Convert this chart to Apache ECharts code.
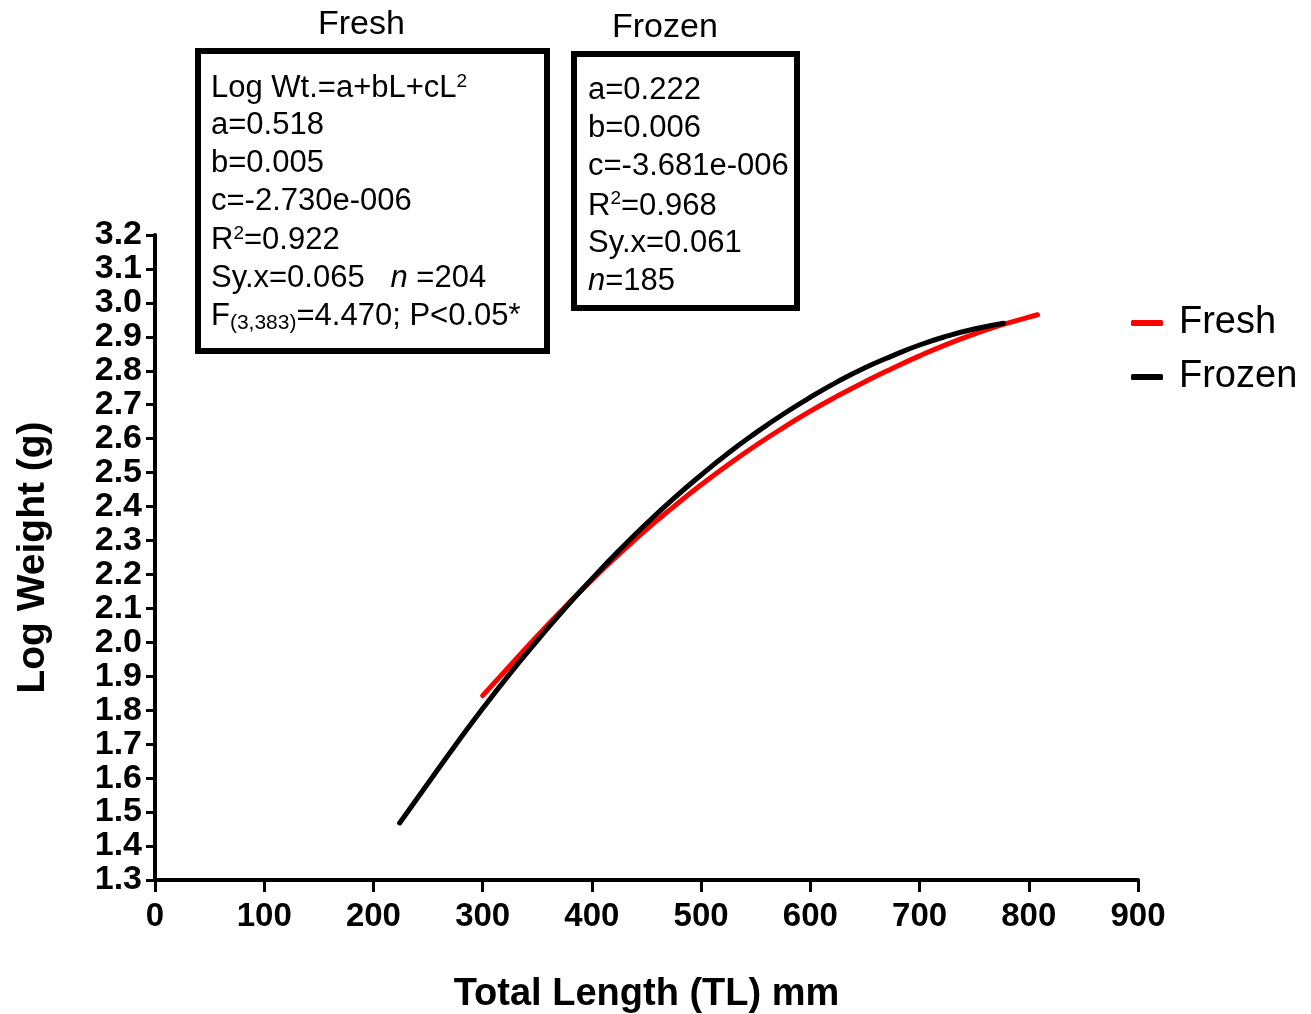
<!DOCTYPE html>
<html>
<head>
<meta charset="utf-8">
<script src="https://cdn.jsdelivr.net/npm/echarts@6/dist/echarts.min.js"></script>
<style>
html,body{margin:0;padding:0;background:#fff;}
#chart{width:1311px;height:1014px;}
</style>
</head>
<body>
<div id="chart"></div>
<script>
// Data
const freshLength = [300, 325, 350, 375, 400, 425, 450, 475, 500, 525, 550, 575, 600, 625, 650, 675, 700, 725, 750, 775, 800, 808];
const freshLogWt  = [1.843, 1.931, 2.019, 2.103, 2.184, 2.260, 2.333, 2.400, 2.464, 2.524, 2.580, 2.632, 2.681, 2.726, 2.768, 2.807, 2.844, 2.878, 2.908, 2.935, 2.958, 2.965];
const frozenLength = [224, 250, 275, 300, 325, 350, 375, 400, 425, 450, 475, 500, 525, 550, 575, 600, 625, 650, 675, 700, 725, 750, 777];
const frozenLogWt  = [1.468, 1.585, 1.697, 1.805, 1.908, 2.005, 2.099, 2.187, 2.271, 2.350, 2.424, 2.493, 2.558, 2.617, 2.672, 2.722, 2.768, 2.809, 2.844, 2.876, 2.902, 2.923, 2.940];
const seriesNames = ['Fresh', 'Frozen'];
const xTicks = {min: 0, max: 900, interval: 100};
const yTicks = {min: 1.3, max: 3.2, interval: 0.1};
const freshStats = ['Log Wt.=a+bL+cL{sup|2}', 'a=0.518', 'b=0.005', 'c=-2.730e-006', 'R{sup|2}=0.922', 'Sy.x=0.065   {it|n} =204', 'F{sub|(3,383)}=4.470; P<0.05*'];
const frozenStats = ['a=0.222', 'b=0.006', 'c=-3.681e-006', 'R{sup|2}=0.968', 'Sy.x=0.061', '{it|n}=185'];

const chart = echarts.init(document.getElementById('chart'), null, {renderer: 'canvas'});
const FONT = "'Liberation Sans', Arial, sans-serif";
const rich = {
  sup: {fontSize: 19, fontFamily: FONT, color: '#000', verticalAlign: 'top', padding: [0, 0, 14, 0]},
  sub: {fontSize: 21, fontFamily: FONT, color: '#000', padding: [14, 0, 0, 0]},
  it: {fontSize: 31, fontFamily: FONT, fontStyle: 'italic', color: '#000'}
};
function statTexts(lines, x, y0, step) {
  return lines.map((t, i) => ({
    type: 'text', left: x, top: y0 + i * step - 19,
    style: {text: t, fontSize: 31, fontFamily: FONT, fill: '#000', rich: rich}
  }));
}
const graphics = [
  {type: 'text', left: 318, top: 8, style: {text: 'Fresh', fontSize: 34, fontFamily: FONT, fill: '#000'}},
  {type: 'text', left: 612, top: 11, style: {text: 'Frozen', fontSize: 34, fontFamily: FONT, fill: '#000'}},
  {type: 'rect', shape: {x: 198, y: 51, width: 349, height: 300}, style: {fill: 'none', stroke: '#000', lineWidth: 6}},
  {type: 'rect', shape: {x: 574, y: 54, width: 223, height: 254}, style: {fill: 'none', stroke: '#000', lineWidth: 6}}
].concat(statTexts(freshStats, 211, 91, 38.1)).concat(statTexts(frozenStats, 588, 94, 38.2));

chart.setOption({
  backgroundColor: '#fff',
  animation: false,
  grid: {left: 155, right: 173, top: 235, bottom: 134, containLabel: false, outerBoundsMode: 'none'},
  legend: {
    orient: 'vertical', left: 1126, top: 299, itemGap: 16,
    icon: 'roundRect', itemWidth: 32, itemHeight: 6,
    textStyle: {fontSize: 38, fontFamily: FONT, color: '#000', padding: [0, 0, 0, 11]},
    data: seriesNames
  },
  xAxis: {
    type: 'value', min: xTicks.min, max: xTicks.max, interval: xTicks.interval,
    name: 'Total Length (TL) mm', nameLocation: 'middle', nameGap: 96,
    nameTextStyle: {fontSize: 38, fontWeight: 'bold', fontFamily: FONT, color: '#000'},
    axisLine: {show: true, lineStyle: {color: '#000', width: 4}},
    axisTick: {show: true, length: 12, lineStyle: {color: '#000', width: 3}},
    axisLabel: {fontSize: 33, fontWeight: 'bold', fontFamily: FONT, color: '#000', margin: 20},
    splitLine: {show: false}
  },
  yAxis: {
    type: 'value', min: yTicks.min, max: yTicks.max, interval: yTicks.interval,
    name: 'Log Weight (g)', nameLocation: 'middle', nameGap: 102, nameRotate: 90,
    nameTextStyle: {fontSize: 39, fontWeight: 'bold', fontFamily: FONT, color: '#000'},
    axisLine: {show: true, lineStyle: {color: '#000', width: 4}},
    axisTick: {show: true, length: 9, lineStyle: {color: '#000', width: 3}},
    axisLabel: {fontSize: 34, fontWeight: 'bold', fontFamily: FONT, color: '#000', margin: 13,
      formatter: v => v.toFixed(1)},
    splitLine: {show: false}
  },
  series: [
    {name: seriesNames[0], type: 'line', smooth: true, showSymbol: false, symbol: 'none',
     data: freshLength.map((x, i) => [x, freshLogWt[i]]),
     lineStyle: {color: '#ff0000', width: 5, cap: 'round'}, itemStyle: {color: '#ff0000'}, z: 2},
    {name: seriesNames[1], type: 'line', smooth: true, showSymbol: false, symbol: 'none',
     data: frozenLength.map((x, i) => [x, frozenLogWt[i]]),
     lineStyle: {color: '#000', width: 5, cap: 'round'}, itemStyle: {color: '#000'}, z: 3}
  ],
  graphic: graphics
});
</script>
</body>
</html>
